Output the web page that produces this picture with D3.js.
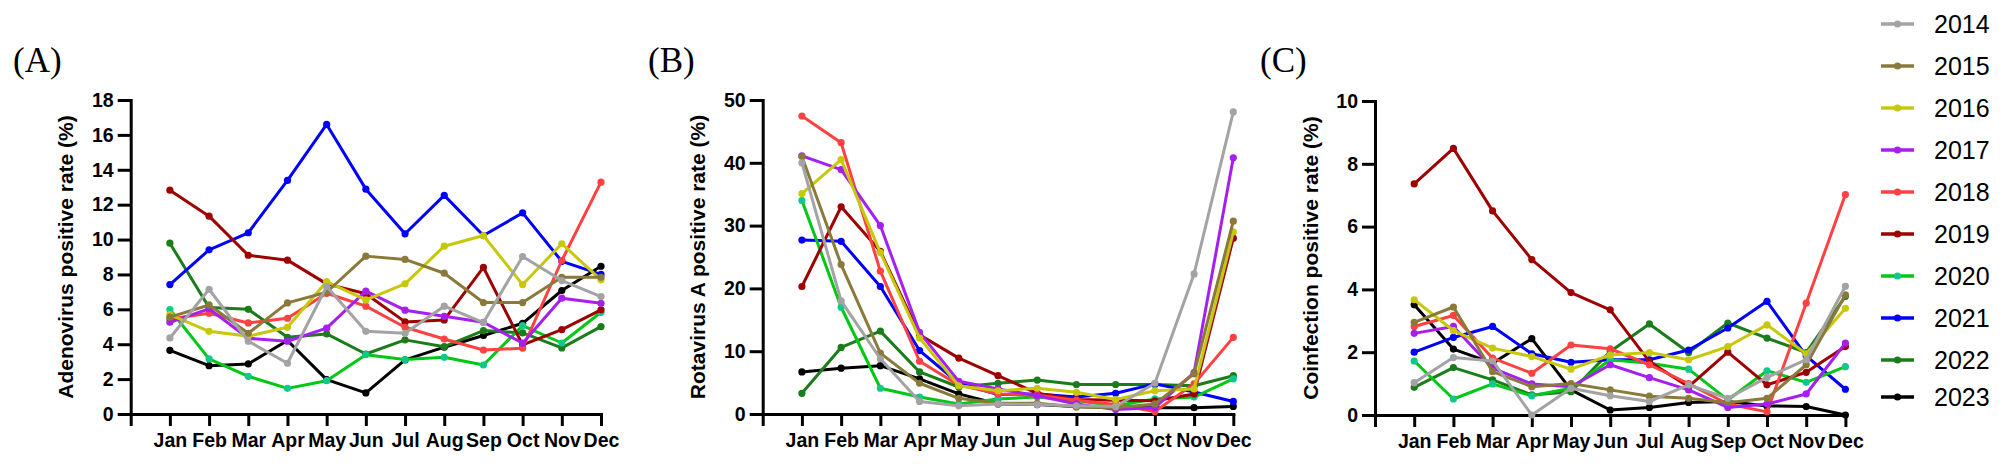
<!DOCTYPE html>
<html><head><meta charset="utf-8">
<script src="https://cdn.jsdelivr.net/npm/d3@7"></script>
<style>body{margin:0;background:#fff} svg{display:block}</style>
</head><body>
<svg id="chart" width="2008" height="464"></svg>
<script>
// ---------- data ----------
const months = ["Jan","Feb","Mar","Apr","May","Jun","Jul","Aug","Sep","Oct","Nov","Dec"];
const years = ["2014","2015","2016","2017","2018","2019","2020","2021","2022","2023"];
const yearColors = ["#a3a3a3","#8a7a3a","#c8c80a","#a61ff0","#ff4141","#9e0000","#00c814","#0000ff","#1a7d1a","#000000"];
const markerColors = ["#a3a3a3","#8a7a3a","#c8c80a","#a61ff0","#ff4141","#9e0000","#10c88c","#0000ff","#1a7d1a","#000000"];

const adenoTicks = [0,2,4,6,8,10,12,14,16,18];
const rotaTicks = [0,10,20,30,40,50];
const coinfTicks = [0,2,4,6,8,10];

// one row per year (2014 .. 2023), Jan .. Dec
const adenovirus = [
  [4.36,7.15,4.17,2.91,7.31,4.74,4.63,6.18,5.24,9.03,7.65,6.73],
  [5.55,6.25,4.63,6.37,6.98,9.05,8.86,8.07,6.39,6.39,7.84,7.84],
  [5.70,4.74,4.46,4.97,7.59,6.54,7.46,9.62,10.23,7.42,9.76,7.69],
  [5.26,6.03,4.34,4.17,4.92,7.04,5.95,5.60,5.26,4.06,6.64,6.35],
  [5.45,5.78,5.22,5.49,6.92,6.18,4.97,4.30,3.67,3.77,8.80,13.29],
  [12.83,11.34,9.10,8.82,7.46,6.89,5.28,5.39,8.40,3.96,4.84,5.97],
  [5.99,3.16,2.16,1.47,1.91,3.40,3.12,3.25,2.81,5.07,4.07,5.83],
  [7.42,9.41,10.39,13.39,16.60,12.89,10.33,12.53,10.23,11.53,8.75,8.00],
  [9.79,6.10,6.00,4.40,4.59,3.44,4.25,3.86,4.78,4.65,3.79,5.01],
  [3.65,2.77,2.87,4.21,1.97,1.21,3.10,3.83,4.50,5.20,7.08,8.47]
];
const rotavirusA = [
  [40.0,18.0,8.8,2.0,1.3,1.6,1.5,1.3,1.2,4.9,22.3,48.1],
  [41.0,23.8,9.7,4.9,2.5,1.7,1.7,1.1,1.0,1.6,6.4,30.7],
  [35.1,40.5,25.7,12.1,4.5,3.7,4.1,3.45,2.3,3.7,4.0,29.0],
  [41.1,38.9,30.0,13.0,5.2,4.0,2.9,1.6,0.7,1.0,6.6,40.8],
  [47.45,43.2,22.74,8.4,4.6,3.2,3.0,2.2,1.5,0.4,4.8,12.2],
  [20.3,33.0,25.9,12.6,8.9,6.1,3.3,2.3,2.2,2.1,3.2,28.0],
  [34.0,17.0,4.1,2.7,1.6,2.4,2.7,2.1,1.3,2.4,2.7,5.6],
  [27.7,27.5,20.3,10.1,4.9,3.1,3.2,2.7,3.3,4.8,3.5,2.0],
  [3.3,10.6,13.2,6.7,4.3,4.9,5.4,4.7,4.7,4.7,4.5,6.1],
  [6.7,7.3,7.7,5.6,3.2,1.6,1.5,1.2,1.0,1.0,1.0,1.2]
];
const coinfection = [
  [1.03,1.83,1.72,0.00,0.85,0.61,0.43,0.96,0.53,1.20,1.76,4.10],
  [2.95,3.44,1.38,0.90,1.00,0.80,0.60,0.53,0.39,0.53,1.60,3.83],
  [3.67,2.69,2.13,1.86,1.46,1.91,1.99,1.76,2.18,2.87,1.95,3.40],
  [2.60,2.82,1.49,0.99,0.90,1.60,1.19,0.80,0.24,0.35,0.67,2.29],
  [2.82,3.17,1.81,1.33,2.23,2.11,1.60,1.00,0.35,0.10,3.56,7.02],
  [7.36,8.49,6.50,4.95,3.90,3.35,1.70,0.90,2.00,0.96,1.36,2.18],
  [1.72,0.51,0.99,0.61,0.85,1.76,1.65,1.46,0.48,1.41,1.04,1.54],
  [2.00,2.47,2.82,1.95,1.68,1.76,1.76,2.07,2.77,3.62,1.88,0.82],
  [0.88,1.51,1.12,0.64,0.74,2.02,2.90,1.99,2.93,2.45,1.99,3.78],
  [3.51,2.10,1.65,2.43,0.80,0.16,0.24,0.40,0.43,0.29,0.27,0.00]
];

// ---------- layout ----------
const svg = d3.select("#chart");
const panels = [
  {label:"(A)", labelX:13, title:"Adenovirus positive rate (%)", data:adenovirus, ticks:adenoTicks, xr:[130.7,601], yr:[414,100]},
  {label:"(B)", labelX:648, title:"Rotavirus A positive rate (%)", data:rotavirusA, ticks:rotaTicks, xr:[762.7,1233.3], yr:[414,100]},
  {label:"(C)", labelX:1260, title:"Coinfection positive rate (%)", data:coinfection, ticks:coinfTicks, xr:[1375,1845.4], yr:[415,101]}
];

panels.forEach(p => {
  const g = svg.append("g");
  const x = d3.scalePoint().domain(["", ...months]).range(p.xr).padding(0);
  const y = d3.scaleLinear().domain([d3.min(p.ticks), d3.max(p.ticks)]).range(p.yr);

  // panel label
  svg.append("text").attr("x", p.labelX).attr("y", 72)
    .attr("font-family", "'Liberation Serif','Times New Roman',serif")
    .attr("font-size", 35).attr("fill", "#000").text(p.label);

  // y axis
  const ya = g.append("g").attr("transform", `translate(${p.xr[0]},0)`)
    .call(d3.axisLeft(y).tickValues(p.ticks).tickSize(13).tickSizeOuter(0).tickPadding(4));
  // x axis
  const xa = g.append("g").attr("transform", `translate(0,${p.yr[0]})`)
    .call(d3.axisBottom(x).tickSize(12).tickSizeOuter(0).tickPadding(7));

  [ya, xa].forEach(a => {
    a.select(".domain").attr("stroke", "#000").attr("stroke-width", 3).attr("stroke-linecap", "square");
    a.selectAll(".tick line").attr("stroke", "#000").attr("stroke-width", 3);
    a.selectAll(".tick text").attr("fill", "#000")
      .attr("font-family", "'Liberation Sans',Arial,sans-serif")
      .attr("font-weight", "bold").attr("font-size", 19.5);
  });

  // y title
  const cy = (p.yr[0] + p.yr[1]) / 2;
  const tx = p.xr[0] - 65;
  g.append("text").attr("transform", `translate(${tx},${cy}) rotate(-90)`)
    .attr("text-anchor", "middle").attr("dominant-baseline", "central")
    .attr("font-family", "'Liberation Sans',Arial,sans-serif")
    .attr("font-weight", "bold").attr("font-size", 21).attr("fill", "#000")
    .text(p.title);

  // series, 2023 first so 2014 on top
  const line = d3.line().x((d, i) => x(months[i])).y(d => y(d));
  for (let k = years.length - 1; k >= 0; k--) {
    const vals = p.data[k];
    const sg = g.append("g");
    sg.append("path").datum(vals).attr("d", line).attr("fill", "none")
      .attr("stroke", yearColors[k]).attr("stroke-width", 3).attr("stroke-linejoin", "round");
    sg.selectAll("circle").data(vals).join("circle")
      .attr("cx", (d, i) => x(months[i])).attr("cy", d => y(d)).attr("r", 3.6)
      .attr("fill", markerColors[k]);
  }
});

// legend
const lg = svg.append("g");
years.forEach((yr, i) => {
  const cy = i < 9 ? 24 + 42 * i : 397;
  lg.append("line").attr("x1", 1881).attr("x2", 1914).attr("y1", cy).attr("y2", cy)
    .attr("stroke", yearColors[i]).attr("stroke-width", 3.5);
  lg.append("circle").attr("cx", 1897.5).attr("cy", cy).attr("r", 3.6).attr("fill", markerColors[i]);
  lg.append("text").attr("x", 1934).attr("y", cy).attr("dominant-baseline", "central")
    .attr("font-family", "'Liberation Sans',Arial,sans-serif").attr("font-size", 25)
    .attr("fill", "#000").text(yr);
});
</script>
</body></html>
